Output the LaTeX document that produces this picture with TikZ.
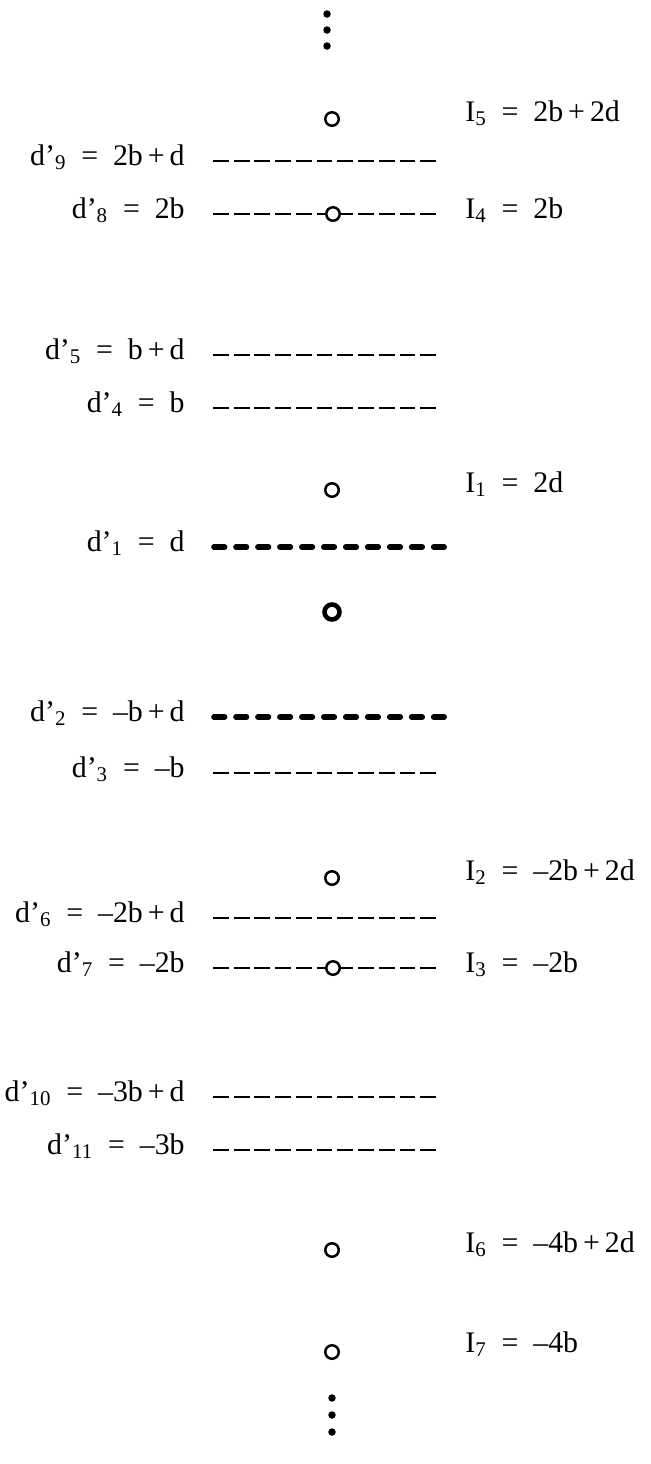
\documentclass[tikz,border=0pt]{standalone}
\usepackage{fontspec}
\setmainfont{Liberation Serif}
\usetikzlibrary{positioning}
\tikzset{
  lvlfont/.style={font=\fontsize{17}{20}\selectfont},
  dlab/.style={lvlfont, anchor=mid east, inner sep=0pt},
  ilab/.style={lvlfont, anchor=mid west, inner sep=0pt},
  level/.style={line width=1.6pt, dash pattern=on 9pt off 2.8pt},
  strong level/.style={line width=3.2pt, line cap=round, dash pattern=on 6pt off 6.5pt},
  state/.style={circle, draw, fill=white, line width=1.4pt, inner sep=0pt, minimum size=0.27cm},
  bold state/.style={state, line width=2.6pt, minimum size=0.3cm},
  vdot/.style={circle, fill, inner sep=0pt, minimum size=0.15cm}
}

\begin{document}
\begin{tikzpicture}[x=0.02cm, y=-0.02cm]
    \useasboundingbox (0,0) rectangle (650,1464);
    % continuation above
    \node[vdot] (top1) at (327,14) {};
    \node[vdot] (top2) at (327,30) {};
    \node[vdot] (top3) at (327,46) {};
    % upper group
    \node[state] (i5) at (332,119) {};
    \node[ilab] (i5lab) at (465,117) {I\textsubscript{5}\enspace=\enspace2b\,+\,2d};
    \node[dlab] (d9) at (185,161) {d’\textsubscript{9}\enspace=\enspace2b\,+\,d};
    \draw[level] (d9.mid east) ++(28,0) -- ++(224,0);
    \node[dlab] (d8) at (185,214) {d’\textsubscript{8}\enspace=\enspace2b};
    \draw[level] (d8.mid east) ++(28,0) -- ++(224,0);
    \node[state] (i4) at (333,214) {};
    \node[ilab] (i4lab) at (465,214) {I\textsubscript{4}\enspace=\enspace2b};
    \node[dlab] (d5) at (185,355) {d’\textsubscript{5}\enspace=\enspace b\,+\,d};
    \draw[level] (d5.mid east) ++(28,0) -- ++(224,0);
    \node[dlab] (d4) at (185,408) {d’\textsubscript{4}\enspace=\enspace b};
    \draw[level] (d4.mid east) ++(28,0) -- ++(224,0);
    % around zero
    \node[state] (i1) at (332,490) {};
    \node[ilab] (i1lab) at (465,488) {I\textsubscript{1}\enspace=\enspace2d};
    \node[dlab] (d1) at (185,547) {d’\textsubscript{1}\enspace=\enspace d};
    \draw[strong level] (d1.mid east) ++(29,0) -- ++(238,0);
    \node[bold state] (i0) at (332,612) {};
    \node[dlab] (d2) at (185,717) {d’\textsubscript{2}\enspace=\enspace–b\,+\,d};
    \draw[strong level] (d2.mid east) ++(29,0) -- ++(238,0);
    \node[dlab] (d3) at (185,773) {d’\textsubscript{3}\enspace=\enspace–b};
    \draw[level] (d3.mid east) ++(28,0) -- ++(224,0);
    % lower group
    \node[state] (i2) at (332,878) {};
    \node[ilab] (i2lab) at (465,876) {I\textsubscript{2}\enspace=\enspace–2b\,+\,2d};
    \node[dlab] (d6) at (185,918) {d’\textsubscript{6}\enspace=\enspace–2b\,+\,d};
    \draw[level] (d6.mid east) ++(28,0) -- ++(224,0);
    \node[dlab] (d7) at (185,968) {d’\textsubscript{7}\enspace=\enspace–2b};
    \draw[level] (d7.mid east) ++(28,0) -- ++(224,0);
    \node[state] (i3) at (333,968) {};
    \node[ilab] (i3lab) at (465,968) {I\textsubscript{3}\enspace=\enspace–2b};
    \node[dlab] (d10) at (185,1097) {d’\textsubscript{10}\enspace=\enspace–3b\,+\,d};
    \draw[level] (d10.mid east) ++(28,0) -- ++(224,0);
    \node[dlab] (d11) at (185,1150) {d’\textsubscript{11}\enspace=\enspace–3b};
    \draw[level] (d11.mid east) ++(28,0) -- ++(224,0);
    \node[state] (i6) at (332,1250) {};
    \node[ilab] (i6lab) at (465,1248) {I\textsubscript{6}\enspace=\enspace–4b\,+\,2d};
    \node[state] (i7) at (332,1352) {};
    \node[ilab] (i7lab) at (465,1348) {I\textsubscript{7}\enspace=\enspace–4b};
    % continuation below
    \node[vdot] (bot1) at (332,1398) {};
    \node[vdot] (bot2) at (332,1415) {};
    \node[vdot] (bot3) at (332,1432) {};
\end{tikzpicture}
\end{document}
